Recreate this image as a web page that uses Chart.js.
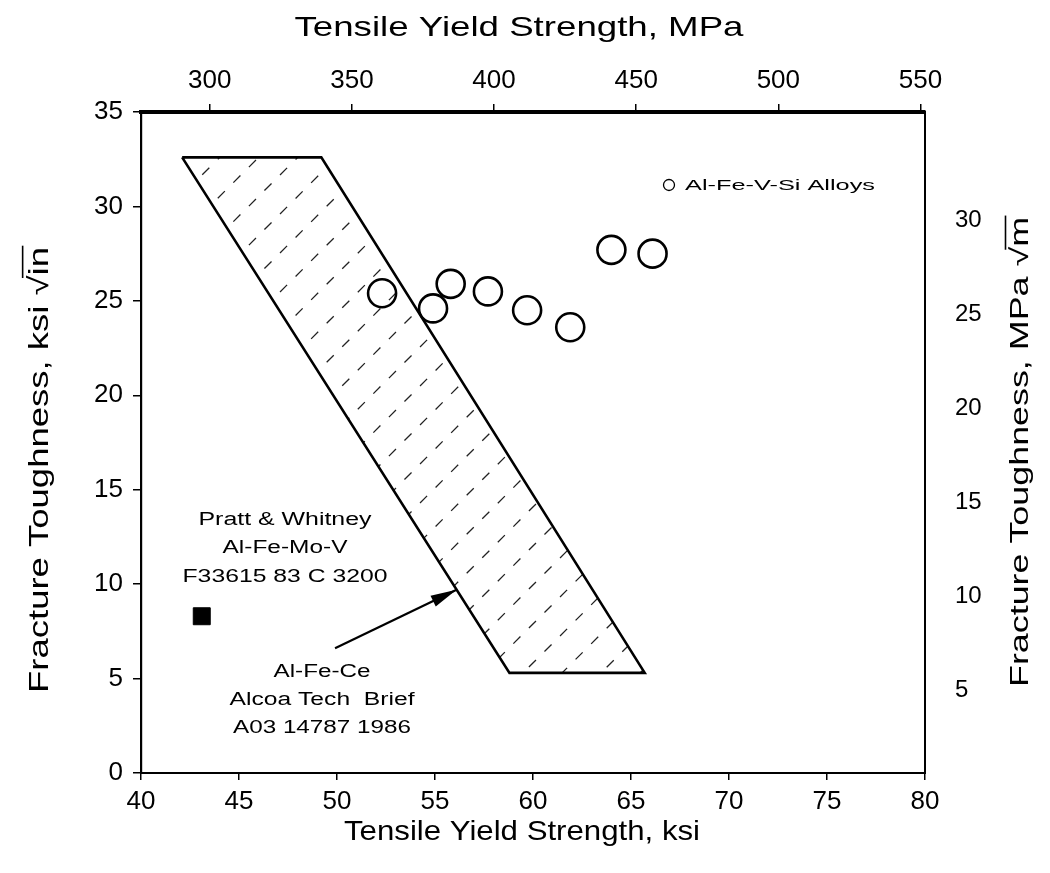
<!DOCTYPE html>
<html>
<head>
<meta charset="utf-8">
<script src="https://cdn.jsdelivr.net/npm/chart.js@4.4.1/dist/chart.umd.min.js"></script>
<style>
  html, body { margin: 0; padding: 0; background: #fff; }
  #wrap { width: 1050px; height: 873px; }
</style>
</head>
<body>
<div id="wrap"><canvas id="chart" width="1050" height="873"></canvas></div>
<script>
// Valores
const alloyKsi = [52.3, 54.9, 55.8, 57.7, 59.7, 61.9, 64.0, 66.1];
const alloyToughness = [25.4, 24.6, 25.9, 25.5, 24.5, 23.6, 27.7, 27.5];
const prattKsi = [43.1];
const prattToughness = [8.3];
const bandKsi = [42.1, 49.2, 65.7, 58.8, 42.1];
const bandToughness = [32.6, 32.6, 5.3, 5.3, 32.6];
const arrowKsi = [49.9, 56.1];
const arrowToughness = [6.6, 9.7];

const ksiTicks = [40, 45, 50, 55, 60, 65, 70, 75, 80];
const mpaTicks = [300, 350, 400, 450, 500, 550];
const ksiInTicks = [0, 5, 10, 15, 20, 25, 30, 35];
const mpaMTicks = [5, 10, 15, 20, 25, 30];

const FONT = "'Liberation Sans', Arial, sans-serif";

function toPoints(xs, ys) {
    return xs.map((x, i) => ({ x: x, y: ys[i] }));
}

// Texto ajustado a un ancho dado (el original es una copia escaneada)
function fitText(ctx, text, x, y, width, size, rot) {
    ctx.save();
    ctx.font = size + 'px ' + FONT;
    ctx.translate(x, y);
    if (rot) ctx.rotate(rot);
    const w = ctx.measureText(text).width;
    ctx.scale(width / w, 1);
    ctx.textAlign = 'center';
    ctx.textBaseline = 'middle';
    ctx.fillStyle = '#000';
    ctx.fillText(text, 0, 0);
    ctx.restore();
}

// Título con raíz: dibuja la barra sobre el radicando
function rootTitle(ctx, prefix, radicand, x, y, width, size, rot) {
    ctx.save();
    ctx.font = size + 'px ' + FONT;
    ctx.translate(x, y);
    if (rot) ctx.rotate(rot);
    const full = prefix + radicand;
    const w = ctx.measureText(full).width;
    const wp = ctx.measureText(prefix).width;
    ctx.scale(width / w, 1);
    ctx.textAlign = 'left';
    ctx.textBaseline = 'middle';
    ctx.fillStyle = '#000';
    ctx.fillText(full, -w / 2, 0);
    ctx.strokeStyle = '#000';
    ctx.lineWidth = 1.6;
    ctx.beginPath();
    ctx.moveTo(-w / 2 + wp - 2, -size * 0.62);
    ctx.lineTo(w / 2 + 1, -size * 0.62);
    ctx.stroke();
    ctx.restore();
}

const notes = [
    { text: 'Pratt & Whitney', x: 285, y: 520, w: 173 },
    { text: 'Al-Fe-Mo-V', x: 285, y: 548, w: 125 },
    { text: 'F33615 83 C 3200', x: 285, y: 577, w: 205 },
    { text: 'Al-Fe-Ce', x: 322, y: 672, w: 97 },
    { text: 'Alcoa Tech  Brief', x: 322, y: 700, w: 185 },
    { text: 'A03 14787 1986', x: 322, y: 728, w: 178 }
];

const extras = {
    id: 'extras',
    beforeDatasetsDraw(chart) {
        // Rayado discontinuo de la banda Al-Fe-Ce
        const ctx = chart.ctx, sx = chart.scales.x, sy = chart.scales.y;
        const pts = bandKsi.map((v, i) => [sx.getPixelForValue(v), sy.getPixelForValue(bandToughness[i])]);
        ctx.save();
        ctx.beginPath();
        pts.forEach((p, i) => i ? ctx.lineTo(p[0], p[1]) : ctx.moveTo(p[0], p[1]));
        ctx.closePath();
        ctx.clip();
        ctx.strokeStyle = '#222';
        ctx.lineWidth = 1.3;
        ctx.setLineDash([10, 12]);
        for (let c = 377 - 39 * 3; c < 1400; c += 39) {
            ctx.beginPath();
            ctx.moveTo(0, c);
            ctx.lineTo(c, 0);
            ctx.stroke();
        }
        ctx.restore();
    },
    afterDraw(chart) {
        const ctx = chart.ctx, sx = chart.scales.x, sy = chart.scales.y;

        // Punta de flecha
        const tx = sx.getPixelForValue(arrowKsi[0]), ty = sy.getPixelForValue(arrowToughness[0]);
        const hx = sx.getPixelForValue(arrowKsi[1]), hy = sy.getPixelForValue(arrowToughness[1]);
        const a = Math.atan2(hy - ty, hx - tx);
        ctx.save();
        ctx.translate(hx, hy);
        ctx.rotate(a);
        ctx.fillStyle = '#000';
        ctx.beginPath();
        ctx.moveTo(0, 0);
        ctx.lineTo(-26, -6);
        ctx.lineTo(-26, 6);
        ctx.closePath();
        ctx.fill();
        ctx.restore();

        // Anotaciones
        notes.forEach(n => fitText(ctx, n.text, n.x, n.y, n.w, 18));

        // Leyenda de la serie de círculos
        ctx.save();
        ctx.strokeStyle = '#000';
        ctx.lineWidth = 1.3;
        ctx.beginPath();
        ctx.arc(669, 185, 5.5, 0, Math.PI * 2);
        ctx.stroke();
        ctx.restore();
        fitText(ctx, 'Al-Fe-V-Si Alloys', 780, 186, 190, 15);

        // Títulos de ejes
        fitText(ctx, 'Tensile Yield Strength, MPa', 519, 28, 449, 28);
        fitText(ctx, 'Tensile Yield Strength, ksi', 522, 832, 356, 28);
        rootTitle(ctx, 'Fracture Toughness, ksi \u221A', 'in', 40, 470, 446, 28, -Math.PI / 2);
        rootTitle(ctx, 'Fracture Toughness, MPa \u221A', 'm', 1021, 452, 470, 25, -Math.PI / 2);
    }
};

const tickFont = { family: FONT, size: 26 };

new Chart(document.getElementById('chart'), {
    type: 'scatter',
    data: {
        datasets: [
            {
                label: 'Al-Fe-Ce',
                data: toPoints(bandKsi, bandToughness),
                showLine: true,
                borderColor: '#000',
                borderWidth: 2.6,
                pointRadius: 0,
                tension: 0,
                fill: false
            },
            {
                label: 'arrow',
                data: toPoints(arrowKsi, arrowToughness),
                showLine: true,
                borderColor: '#000',
                borderWidth: 2.2,
                pointRadius: 0
            },
            {
                label: 'Al-Fe-V-Si Alloys',
                data: toPoints(alloyKsi, alloyToughness),
                pointStyle: 'circle',
                pointRadius: 14,
                borderColor: '#000',
                borderWidth: 2.6,
                backgroundColor: 'rgba(0,0,0,0)'
            },
            {
                label: 'Pratt & Whitney',
                data: toPoints(prattKsi, prattToughness),
                pointStyle: 'rect',
                pointRadius: 12,
                borderColor: '#000',
                borderWidth: 1,
                backgroundColor: '#000'
            }
        ]
    },
    options: {
        responsive: false,
        animation: false,
        devicePixelRatio: 1,
        layout: { padding: 0 },
        plugins: {
            legend: { display: false },
            tooltip: { enabled: false }
        },
        scales: {
            x: {
                type: 'linear',
                position: 'bottom',
                min: 40,
                max: 80,
                afterBuildTicks: s => { s.ticks = ksiTicks.map(v => ({ value: v })); },
                afterFit: s => { s.height = 100; },
                ticks: { font: tickFont, color: '#000', padding: 6, maxRotation: 0 },
                grid: { drawOnChartArea: false, tickLength: 7, color: '#000', lineWidth: 1.5 },
                border: { color: '#000', width: 2 }
            },
            x2: {
                type: 'linear',
                position: 'top',
                min: 40 * 6.895,
                max: 80 * 6.895,
                afterBuildTicks: s => { s.ticks = mpaTicks.map(v => ({ value: v })); },
                afterFit: s => { s.height = 112; },
                ticks: { font: tickFont, color: '#000', padding: 8, maxRotation: 0 },
                grid: { drawOnChartArea: false, tickLength: 8, color: '#000', lineWidth: 1.5 },
                border: { color: '#000', width: 4 }
            },
            y: {
                type: 'linear',
                position: 'left',
                min: 0,
                max: 35,
                afterBuildTicks: s => { s.ticks = ksiInTicks.map(v => ({ value: v })); },
                afterFit: s => { s.width = 141; },
                ticks: { font: tickFont, color: '#000', padding: 10 },
                grid: { drawOnChartArea: false, tickLength: 8, color: '#000', lineWidth: 1.5 },
                border: { color: '#000', width: 2.2 }
            },
            y2: {
                type: 'linear',
                position: 'right',
                min: 0.585,
                max: 35.74,
                afterBuildTicks: s => { s.ticks = mpaMTicks.map(v => ({ value: v })); },
                afterFit: s => { s.width = 125; },
                ticks: { font: { family: FONT, size: 24 }, color: '#000', padding: 30 },
                grid: { drawOnChartArea: false, drawTicks: false },
                border: { color: '#000', width: 2 }
            }
        }
    },
    plugins: [extras]
});
</script>
</body>
</html>
